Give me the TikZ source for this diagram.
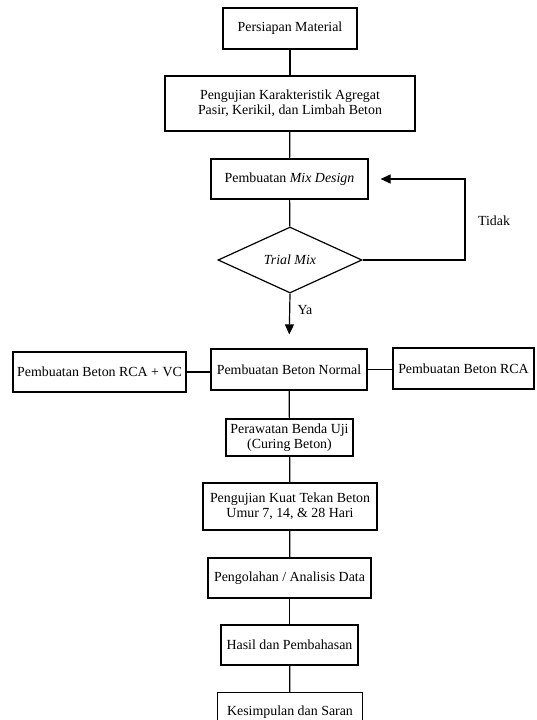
\documentclass[tikz,border=0pt]{standalone}
\usepackage{fontspec}
\setmainfont{Liberation Serif}
\usetikzlibrary{positioning}
\usetikzlibrary{shapes.geometric, arrows.meta}

\begin{document}
\begin{tikzpicture}[x=1pt,y=-1pt,
  box/.style={draw,line width=1.2pt,rectangle,align=center,inner sep=2pt,font=\fontsize{13.9}{15}\selectfont},
  decide/.style={draw,line width=1.2pt,diamond,inner sep=0pt,font=\fontsize{13.9}{15}\selectfont\itshape},
  link/.style={line width=1.2pt},
  tip/.style={line width=1.2pt,-{Triangle[length=10pt,width=9pt]}}]
\useasboundingbox (0,0) rectangle (536,720);

\node[box,minimum width=134pt,minimum height=41pt] (mat) at (290,28.5) {Persiapan Material};
\node[box,minimum width=250pt,minimum height=55pt] (agregat) at (290,103.5) {Pengujian Karakteristik Agregat\\Pasir, Kerikil, dan Limbah Beton};
\node[box,minimum width=157pt,minimum height=40pt] (mix) at (289.5,179) {Pembuatan \textit{Mix Design}};
\node[decide,minimum width=144pt,minimum height=66pt] (trial) at (290,260) {Trial Mix};

\node[box,minimum width=156pt,minimum height=41pt] (normal) at (289,369.5) {Pembuatan Beton Normal};
\node[box,minimum width=173pt,minimum height=40pt] (rcavc) at (99.5,372) {Pembuatan Beton RCA + VC};
\node[box,minimum width=141pt,minimum height=41pt] (rca) at (463.5,368.5) {Pembuatan Beton RCA};

\node[box,minimum width=127pt,minimum height=37pt] (curing) at (289.5,437.5) {Perawatan Benda Uji\\(Curing Beton)};
\node[box,minimum width=174pt,minimum height=47pt] (kuat) at (290,506.5) {Pengujian Kuat Tekan Beton\\Umur 7, 14, \& 28 Hari};
\node[box,minimum width=163pt,minimum height=40pt] (olah) at (289.5,578) {Pengolahan / Analisis Data};
\node[box,minimum width=137pt,minimum height=40pt] (hasil) at (289.5,645) {Hasil dan Pembahasan};
\node[box,minimum width=145pt,minimum height=40pt,anchor=north] (simpul) at (290,692) {Kesimpulan dan Saran};

\node[font=\fontsize{13.9}{15}\selectfont] (tidak) at (494,221) {Tidak};
\node[font=\fontsize{13.9}{15}\selectfont] (ya) at (305,310) {Ya};
\coordinate (balik) at (465,179);

\draw[link] (mat) -- (agregat);
\draw[link] (agregat) -- (mix);
\draw[link] (mix) -- (trial);
\draw[tip,shorten >=14pt] (trial.south) -- (normal.north);
\draw[tip,shorten >=12pt] (trial.east) -| (balik) -- (mix.east);

\draw[link] (rcavc.east) -- (rcavc.east -| normal.west);
\draw[link] (normal.east) -- (normal.east -| rca.west);

\draw[link] (normal) -- (curing);
\draw[link] (curing) -- (kuat);
\draw[link] (kuat) -- (olah);
\draw[link] (olah) -- (hasil);
\draw[link] (hasil) -- (simpul);

\end{tikzpicture}
\end{document}
